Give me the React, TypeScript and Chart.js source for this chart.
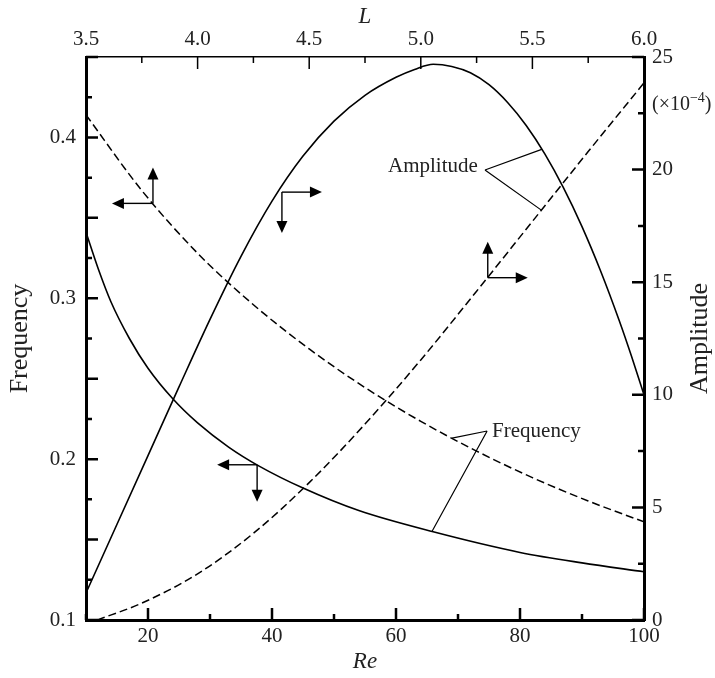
import { useEffect, useRef } from 'react';
import { Chart, registerables } from 'chart.js';

Chart.register(...registerables);

// ---- Data ----
// Solid curves plotted against Re (bottom axis)
const reFreq = [10, 12, 14, 17, 20, 24, 28, 33, 38, 45, 54, 66, 80, 90, 100];
const freqVsRe = [0.341, 0.318, 0.298, 0.275, 0.2565, 0.2375, 0.2225, 0.2075, 0.1955, 0.182, 0.168, 0.1548, 0.142, 0.1355, 0.130];
const reAmp = [10, 15, 20, 25, 30, 35, 40, 45, 50, 55, 60, 63, 66, 69, 72, 75, 78, 81, 84, 87, 90, 93, 96, 98, 100];
const ampVsRe = [1.2, 4.25, 7.3, 10.35, 13.35, 16.15, 18.6, 20.6, 22.15, 23.3, 24.1, 24.45, 24.68, 24.58, 24.3, 23.77, 22.98, 21.96, 20.7, 19.2, 17.47, 15.5, 13.3, 11.7, 10.0];
// Dashed curves plotted against L (top axis)
const lFreq = [3.5, 3.75, 4.0, 4.25, 4.5, 4.75, 5.0, 5.25, 5.5, 5.75, 6.0];
const freqVsL = [0.414, 0.367, 0.328, 0.296, 0.2685, 0.2445, 0.2235, 0.205, 0.1885, 0.174, 0.161];
const lAmp = [3.55, 3.75, 4.0, 4.25, 4.5, 4.75, 5.0, 5.25, 5.5, 5.75, 6.0];
const ampVsL = [0, 0.75, 2.05, 3.85, 6.1, 8.7, 11.55, 14.6, 17.7, 20.8, 23.85];

// ---- Axis ranges and ticks ----
const reRange = [10, 100];
const reTickStep = 10;
const reLabelStep = 20;
const lRange = [3.5, 6.0];
const lTickStep = 0.25;
const lLabelStep = 0.5;
const fRange = [0.1, 0.45];
const fTickStep = 0.025;
const fLongStep = 0.05;
const fLabelStep = 0.1;
const aRange = [0, 25];
const aTickStep = 2.5;
const aLabelStep = 5;

// ---- Annotations (anchored in data units) ----
const arrows = [
  { x: 3.8, y: 0.359, xAxis: 'xL', yAxis: 'yF', h: -41, v: -36 },
  { x: 41.6, y: 19.0, xAxis: 'xRe', yAxis: 'yA', h: 40, v: 41 },
  { x: 5.3, y: 15.2, xAxis: 'xL', yAxis: 'yA', h: 40, v: -36 },
  { x: 37.6, y: 0.1965, xAxis: 'xRe', yAxis: 'yF', h: -40, v: 37 },
];
const leaders = [
  {
    text: 'Amplitude', align: 'right', xAxis: 'xRe', yAxis: 'yA',
    textX: 73.2, textY: 20.16, vx: 74.35, vy: 19.98,
    ends: [
      { x: 83.5, y: 20.9, xAxis: 'xRe', yAxis: 'yA' },
      { x: 5.54, y: 18.2, xAxis: 'xL', yAxis: 'yA' },
    ],
  },
  {
    text: 'Frequency', align: 'left', xAxis: 'xRe', yAxis: 'yF',
    textX: 75.5, textY: 0.2175, vx: 74.7, vy: 0.2175,
    ends: [
      { x: 5.14, y: 0.2131, xAxis: 'xL', yAxis: 'yF' },
      { x: 65.8, y: 0.155, xAxis: 'xRe', yAxis: 'yF' },
    ],
  },
];

const SERIF = '"Liberation Serif", "Times New Roman", serif';
const TEXT = '#222';

const isMult = (v: number, step: number) => Math.abs(v / step - Math.round(v / step)) < 1e-6;

const tickDefs = [
  { id: 'yF', side: 'left', longStep: fLongStep, width: 2.5 },
  { id: 'yA', side: 'right', longStep: aLabelStep, width: 2.5 },
  { id: 'xRe', side: 'bottom', longStep: reLabelStep, width: 2.5 },
  { id: 'xL', side: 'top', longStep: lLabelStep, width: 1.5 },
];

function drawHead(ctx: CanvasRenderingContext2D, tx: number, ty: number, dx: number, dy: number) {
  const L = 12, W = 5.5;
  const bx = tx - dx * L, by = ty - dy * L;
  ctx.beginPath();
  ctx.moveTo(tx, ty);
  ctx.lineTo(bx - dy * W, by + dx * W);
  ctx.lineTo(bx + dy * W, by - dx * W);
  ctx.closePath();
  ctx.fill();
}

const overlayPlugin = {
  id: 'overlay',
  afterDatasetsDraw(chart: any) {
    const { ctx, chartArea: ca, scales } = chart;
    ctx.save();
    ctx.strokeStyle = '#000';
    ctx.fillStyle = '#000';
    // inward ticks
    for (const d of tickDefs) {
      const s = scales[d.id];
      ctx.lineWidth = d.width;
      ctx.beginPath();
      for (const t of s.ticks) {
        const p = s.getPixelForValue(t.value);
        const len = isMult(t.value, d.longStep) ? 12 : 6;
        if (d.side === 'left') { ctx.moveTo(ca.left, p); ctx.lineTo(ca.left + len, p); }
        if (d.side === 'right') { ctx.moveTo(ca.right, p); ctx.lineTo(ca.right - len, p); }
        if (d.side === 'bottom') { ctx.moveTo(p, ca.bottom); ctx.lineTo(p, ca.bottom - len); }
        if (d.side === 'top') { ctx.moveTo(p, ca.top); ctx.lineTo(p, ca.top + len); }
      }
      ctx.stroke();
    }
    // arrows
    ctx.lineWidth = 1.4;
    for (const a of arrows) {
      const cx = scales[a.xAxis].getPixelForValue(a.x);
      const cy = scales[a.yAxis].getPixelForValue(a.y);
      const hx = cx + a.h;
      const hd = Math.sign(a.h);
      ctx.beginPath();
      ctx.moveTo(cx, cy);
      ctx.lineTo(hx - hd * 10, cy);
      ctx.stroke();
      drawHead(ctx, hx, cy, hd, 0);
      const vy = cy + a.v;
      const vd = Math.sign(a.v);
      ctx.beginPath();
      ctx.moveTo(cx, cy);
      ctx.lineTo(cx, vy - vd * 10);
      ctx.stroke();
      drawHead(ctx, cx, vy, 0, vd);
    }
    // leader lines & labels
    ctx.lineWidth = 1.2;
    ctx.font = `21px ${SERIF}`;
    ctx.textBaseline = 'middle';
    for (const l of leaders) {
      const vx = scales[l.xAxis].getPixelForValue(l.vx);
      const vy = scales[l.yAxis].getPixelForValue(l.vy);
      ctx.beginPath();
      for (const e of l.ends) {
        ctx.moveTo(vx, vy);
        ctx.lineTo(scales[e.xAxis].getPixelForValue(e.x), scales[e.yAxis].getPixelForValue(e.y));
      }
      ctx.stroke();
      ctx.fillStyle = TEXT;
      ctx.textAlign = l.align as CanvasTextAlign;
      ctx.fillText(l.text, scales[l.xAxis].getPixelForValue(l.textX), scales[l.yAxis].getPixelForValue(l.textY));
      ctx.fillStyle = '#000';
    }
    // right axis title (reads bottom to top)
    const yA = scales.yA;
    ctx.fillStyle = TEXT;
    ctx.save();
    ctx.translate(700, (yA.top + yA.bottom) / 2);
    ctx.rotate(-Math.PI / 2);
    ctx.textAlign = 'center';
    ctx.textBaseline = 'middle';
    ctx.font = `26px ${SERIF}`;
    ctx.fillText('Amplitude', 0, 0);
    ctx.restore();
    // (×10^-4)
    ctx.textAlign = 'left';
    ctx.textBaseline = 'alphabetic';
    const x0 = ca.right + 8;
    const base = 110;
    ctx.font = `20px ${SERIF}`;
    ctx.fillText('(×10', x0, base);
    const w1 = ctx.measureText('(×10').width;
    ctx.font = `14px ${SERIF}`;
    ctx.fillText('−4', x0 + w1, base - 8);
    const w2 = ctx.measureText('−4').width;
    ctx.font = `20px ${SERIF}`;
    ctx.fillText(')', x0 + w1 + w2, base);
    ctx.restore();
  },
};

const tickFont = { family: SERIF, size: 21 };

function makeConfig(): any {
  return {
    type: 'line',
    data: {
      datasets: [
        {
          data: reFreq.map((x, i) => ({ x, y: freqVsRe[i] })),
          xAxisID: 'xRe', yAxisID: 'yF',
          borderColor: '#000', borderWidth: 1.6, pointRadius: 0,
          cubicInterpolationMode: 'monotone', fill: false,
        },
        {
          data: reAmp.map((x, i) => ({ x, y: ampVsRe[i] })),
          xAxisID: 'xRe', yAxisID: 'yA',
          borderColor: '#000', borderWidth: 1.6, pointRadius: 0,
          cubicInterpolationMode: 'monotone', fill: false,
        },
        {
          data: lFreq.map((x, i) => ({ x, y: freqVsL[i] })),
          xAxisID: 'xL', yAxisID: 'yF',
          borderColor: '#000', borderWidth: 1.5, borderDash: [8, 4], pointRadius: 0,
          cubicInterpolationMode: 'monotone', fill: false,
        },
        {
          data: lAmp.map((x, i) => ({ x, y: ampVsL[i] })),
          xAxisID: 'xL', yAxisID: 'yA',
          borderColor: '#000', borderWidth: 1.5, borderDash: [8, 4], pointRadius: 0,
          cubicInterpolationMode: 'monotone', fill: false,
        },
      ],
    },
    options: {
      animation: false,
      responsive: true,
      maintainAspectRatio: false,
      events: [],
      layout: { padding: 0 },
      plugins: { legend: { display: false }, tooltip: { enabled: false } },
      scales: {
        xRe: {
          type: 'linear', position: 'bottom', min: reRange[0], max: reRange[1],
          ticks: {
            stepSize: reTickStep, autoSkip: false, maxRotation: 0, padding: 4,
            font: tickFont, color: TEXT,
            callback: (v: number) => (isMult(v, reLabelStep) ? String(v) : ''),
          },
          grid: { display: false, drawTicks: false },
          border: { display: true, width: 3, color: '#000' },
          title: {
            display: true, text: 'Re', color: TEXT,
            font: { family: SERIF, size: 23, style: 'italic' },
            padding: { top: 0, bottom: 2 },
          },
          afterFit: (s: any) => { s.height = 58; },
        },
        xL: {
          type: 'linear', position: 'top', min: lRange[0], max: lRange[1],
          ticks: {
            stepSize: lTickStep, autoSkip: false, maxRotation: 0, padding: 5,
            font: tickFont, color: TEXT,
            callback: (v: number) => (isMult(v, lLabelStep) ? v.toFixed(1) : ''),
          },
          grid: { display: false, drawTicks: false },
          border: { display: true, width: 1.5, color: '#000' },
          title: {
            display: true, text: 'L', color: TEXT,
            font: { family: SERIF, size: 23, style: 'italic' },
            padding: { top: 3, bottom: 0 },
          },
          afterFit: (s: any) => { s.height = 57; },
        },
        yF: {
          type: 'linear', position: 'left', min: fRange[0], max: fRange[1],
          ticks: {
            stepSize: fTickStep, autoSkip: false, padding: 10,
            font: tickFont, color: TEXT,
            callback: (v: number) => (isMult(v, fLabelStep) ? v.toFixed(1) : ''),
          },
          grid: { display: false, drawTicks: false },
          border: { display: true, width: 3, color: '#000' },
          title: {
            display: true, text: 'Frequency', color: TEXT,
            font: { family: SERIF, size: 26 },
            padding: { top: 5, bottom: 0 },
          },
          afterFit: (s: any) => { s.width = 86; },
        },
        yA: {
          type: 'linear', position: 'right', min: aRange[0], max: aRange[1],
          ticks: {
            stepSize: aTickStep, autoSkip: false, padding: 8,
            font: tickFont, color: TEXT,
            callback: (v: number) => (isMult(v, aLabelStep) ? String(v) : ''),
          },
          grid: { display: false, drawTicks: false },
          border: { display: true, width: 3, color: '#000' },
          title: { display: false },
          afterFit: (s: any) => { s.width = 71; },
        },
      },
    },
    plugins: [overlayPlugin],
  };
}

export default function App() {
  const ref = useRef<HTMLCanvasElement>(null);
  useEffect(() => {
    if (!ref.current) return;
    const chart = new Chart(ref.current, makeConfig());
    return () => chart.destroy();
  }, []);
  return (
    <div style={{ position: 'fixed', left: 0, top: 0, width: 715, height: 678, background: '#fff' }}>
      <canvas ref={ref} />
    </div>
  );
}
